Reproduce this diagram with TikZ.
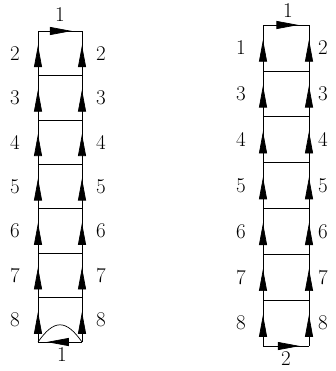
\documentclass[tikz,border=0pt]{standalone}
\usepackage{tikz}
\usetikzlibrary{arrows.meta,positioning,decorations.markings,calc}
\tikzset{
    aresta/.style={line width=0.7pt},
    cunha/.style={
        aresta,
        postaction={decorate},
        decoration={markings,
            mark=at position #1 with {\arrow{Triangle[length=22pt,width=8pt]}}}
    },
    cunha/.default=0.68,
    rotulo/.style={font=\fontsize{21}{24}\selectfont, inner sep=0pt}
}

\begin{document}
\begin{tikzpicture}[x=1pt, y=-1pt]
    \useasboundingbox (0,0) rectangle (336,371);
    % cantos das duas tiras
    \foreach \i in {0,...,7} {
        \coordinate (a\i) at (38,31+44.43*\i);
        \coordinate (b\i) at (82,31+44.43*\i);
        \coordinate (c\i) at (263,25+45.86*\i);
        \coordinate (d\i) at (309,25+45.86*\i);
    }
    % tira da esquerda
    \draw[cunha=0.77] (a0) -- (b0);
    \foreach \i [evaluate=\i as \j using int(\i-1)] in {1,...,7} {
        \draw[cunha] (a\i) -- (a\j);
        \draw[cunha] (b\i) -- (b\j);
    }
    \foreach \i in {1,...,6}
        \draw[aresta] (a\i) -- (b\i);
    \draw[cunha=0.8] (b7) -- (a7);
    \draw[aresta] (a7) .. controls +(-55:28) and +(-125:28) .. (b7);
    % tira da direita
    \draw[cunha=0.77] (c0) -- (d0);
    \foreach \i [evaluate=\i as \j using int(\i-1)] in {1,...,7} {
        \draw[cunha] (c\i) -- (c\j);
        \draw[cunha] (d\i) -- (d\j);
    }
    \foreach \i in {1,...,6}
        \draw[aresta] (c\i) -- (d\i);
    \draw[cunha=0.8] (c7) -- (d7);
    % rotulos
    \node[rotulo] (topoA) at ($(a0)!0.5!(b0)+(0,-16)$) {1};
    \node[rotulo] (baseA) at ($(a7)!0.5!(b7)+(2,13)$) {1};
    \node[rotulo] (topoC) at ($(c0)!0.5!(d0)+(2,-14)$) {1};
    \node[rotulo] (baseC) at ($(c7)!0.5!(d7)+(0,13)$) {2};
    \foreach \i/\ee/\ed [evaluate=\i as \j using int(\i-1)] in
        {1/2/2,2/3/3,3/4/4,4/5/5,5/6/6,6/7/7,7/8/8} {
        \node[rotulo] (ea\i) at ($(a\j)!0.5!(a\i)+(-23,0)$) {\ee};
        \node[rotulo] (da\i) at ($(b\j)!0.5!(b\i)+(19,0)$) {\ed};
    }
    \foreach \i/\ee/\ed [evaluate=\i as \j using int(\i-1)] in
        {1/1/2,2/3/3,3/4/4,4/5/5,5/6/6,6/7/7,7/8/8} {
        \node[rotulo] (ec\i) at ($(c\j)!0.5!(c\i)+(-22,0)$) {\ee};
        \node[rotulo] (dc\i) at ($(d\j)!0.5!(d\i)+(14,0)$) {\ed};
    }
\end{tikzpicture}
\end{document}
